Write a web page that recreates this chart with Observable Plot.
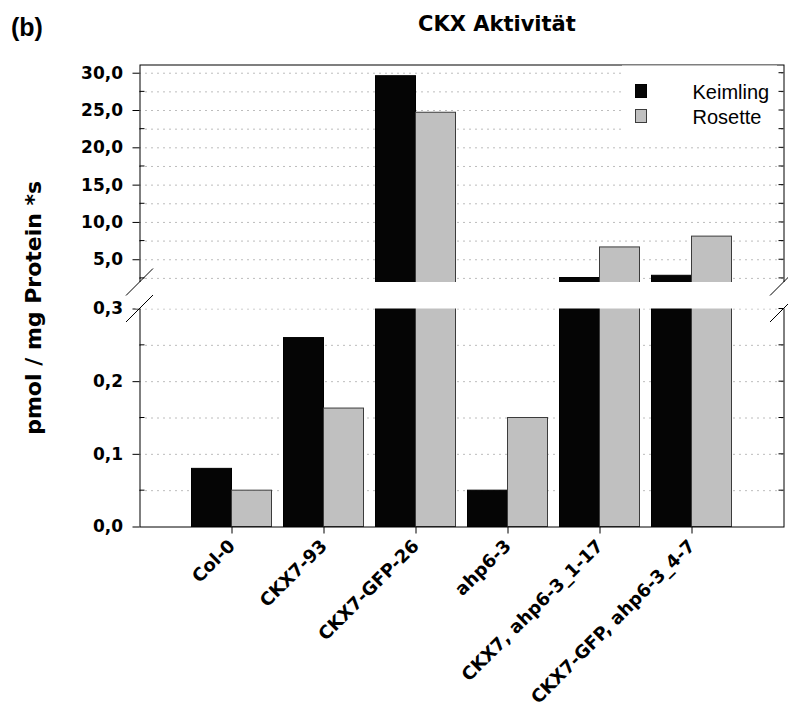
<!DOCTYPE html>
<html>
<head>
<meta charset="utf-8">
<script src="https://cdn.jsdelivr.net/npm/d3@7"></script>
<script src="https://cdn.jsdelivr.net/npm/@observablehq/plot@0.6"></script>
<style>
  html, body { margin: 0; padding: 0; background: #fff; overflow: hidden; }
  #chart svg { display: block; }
  #chart svg [aria-label^="y-axis"] text { font-size: 17px; }
  #chart svg [aria-label^="x-axis"] text { font-size: 18px; }
</style>
</head>
<body>
<div id="chart"></div>
<script>
// Lines (genotypes) on the x axis
const categories = ["Col-0", "CKX7-93", "CKX7-GFP-26", "ahp6-3", "CKX7, ahp6-3_1-17", "CKX7-GFP, ahp6-3_4-7"];
// Series names and CKX activity values (pmol / mg protein * s)
const seriesNames = ["Keimling", "Rosette"];
const keimling = [0.08, 0.26, 29.6, 0.05, 2.55, 2.85];
const rosette = [0.05, 0.163, 24.7, 0.15, 6.65, 8.1];
// Axis ticks and grid levels of the two panels of the broken axis
const yTickValues = [0, 0.1, 0.2, 0.3, 5, 10, 15, 20, 25, 30];
const gridLower = [0.05, 0.1, 0.15, 0.2, 0.25, 0.3];
const gridUpper = [2.5, 5, 7.5, 10, 12.5, 15, 17.5, 20, 22.5, 25, 27.5, 30];
const minorLeft = [0.05, 0.15, 0.25, 2.5, 7.5, 12.5, 17.5, 22.5, 27.5];
// Axis break: values skipped between the lower and upper panel
const yBreak = [0.3, 1.95];
const panelTag = "(b)";
const titleText = "CKX Aktivität";
const yLabel = "pmol / mg Protein *s";

// Layout
const W = 788, H = 713;
const mLeft = 139.5, mRight = 4.5, mTop = 64.5, mBottom = 186.5;
const yDomain = [0, yBreak[0], yBreak[1], 31.1];
const yRange = [H - mBottom, 308.5, 282, mTop];
const colors = { Keimling: "#050505", Rosette: "#c0c0c0" };
const strokes = { Keimling: "#000000", Rosette: "#3c3c3c" };

const fmt = d => d3.format(".1f")(d).replace(".", ",");
const rows = s => categories.map((c, i) => ({ category: c, series: s, value: (s === "Keimling" ? keimling : rosette)[i] }));

const chart = Plot.plot({
  width: W, height: H,
  marginLeft: mLeft, marginRight: mRight, marginTop: mTop, marginBottom: mBottom,
  style: { fontFamily: "'DejaVu Sans', sans-serif", fontWeight: "bold", fontSize: "17px", color: "#000", background: "#fff" },
  x: { type: "band", domain: categories, paddingInner: 12 / 92, paddingOuter: 52 / 92, round: false, align: 0.5,
       label: null, tickSize: 7, tickPadding: 9, tickRotate: -45 },
  y: { type: "linear", domain: yDomain, range: yRange, ticks: yTickValues, tickFormat: fmt,
       tickSize: 7, tickPadding: 10, label: null },
  marks: [
    Plot.ruleY(gridLower.concat(gridUpper), { stroke: "#7a7a7a", strokeWidth: 1, strokeDasharray: "1,5" }),
    Plot.barY(rows("Keimling"), { x: "category", y: "value", fill: colors.Keimling, stroke: strokes.Keimling, strokeWidth: 1, insetRight: 40 }),
    Plot.barY(rows("Rosette"), { x: "category", y: "value", fill: colors.Rosette, stroke: strokes.Rosette, strokeWidth: 1, insetLeft: 40 }),
    Plot.frame({ stroke: "#000", strokeWidth: 1 }),
    Plot.rect([yBreak], { y1: d => d[0], y2: d => d[1], fill: "#fff", insetLeft: -4, insetRight: -4 })
  ]
});

document.getElementById("chart").appendChild(chart);

// Decorations: minor ticks, break marks, legend, titles
const svgNode = chart.tagName.toLowerCase() === "svg" ? chart : chart.querySelector("svg");
const svg = d3.select(svgNode);
const yS = d3.scaleLinear(yDomain, yRange);
const left = mLeft, right = W - mRight;
const deco = svg.append("g").attr("stroke", "#000").attr("stroke-width", 1).attr("fill", "none");

deco.selectAll("line.minor").data(minorLeft).join("line")
  .attr("x1", left).attr("x2", left + 5).attr("y1", d => yS(d)).attr("y2", d => yS(d));
deco.selectAll("line.right").data(gridLower.concat(gridUpper)).join("line")
  .attr("x1", right - 5).attr("x2", right).attr("y1", d => yS(d)).attr("y2", d => yS(d));

const breaks = [];
[left, right].forEach(x => yBreak.forEach(v => breaks.push({ x, y: yS(v) })));
svg.append("g").attr("stroke", "#000").attr("stroke-width", 1)
  .selectAll("line").data(breaks).join("line")
  .attr("x1", d => d.x - 13.5).attr("y1", d => d.y + 13.5)
  .attr("x2", d => d.x + 13.5).attr("y2", d => d.y - 13.5);

// Legend
const lg = svg.append("g");
lg.append("rect").attr("x", 622).attr("y", 65.5).attr("width", 155).attr("height", 72).attr("fill", "#fff");
const items = lg.selectAll("g").data(seriesNames).join("g")
  .attr("transform", (d, i) => `translate(0, ${i * 25})`);
items.append("rect").attr("x", 635.5).attr("y", 84.5).attr("width", 11).attr("height", 13)
  .attr("fill", d => colors[d]).attr("stroke", d => strokes[d]).attr("stroke-width", 1);
items.append("text").attr("x", 692.5).attr("y", 98.5)
  .attr("text-anchor", "start")
  .style("font-family", "'Liberation Sans', Arial, sans-serif").style("font-weight", "normal").style("font-size", "20px")
  .attr("fill", "#000").text(d => d);

// Titles and y axis label
svg.append("text").attr("x", 11).attr("y", 36).attr("text-anchor", "start")
  .style("font-family", "'Liberation Sans', Arial, sans-serif").style("font-size", "25px")
  .attr("fill", "#000").text(panelTag);
svg.append("text").attr("x", 418).attr("y", 30.7).attr("text-anchor", "start")
  .style("font-size", "21px").attr("fill", "#000").text(titleText);
svg.append("text").attr("transform", "translate(40.5, 307.8) rotate(-90)").attr("text-anchor", "middle")
  .style("font-size", "22px").attr("fill", "#000").text(yLabel);
</script>
</body>
</html>
